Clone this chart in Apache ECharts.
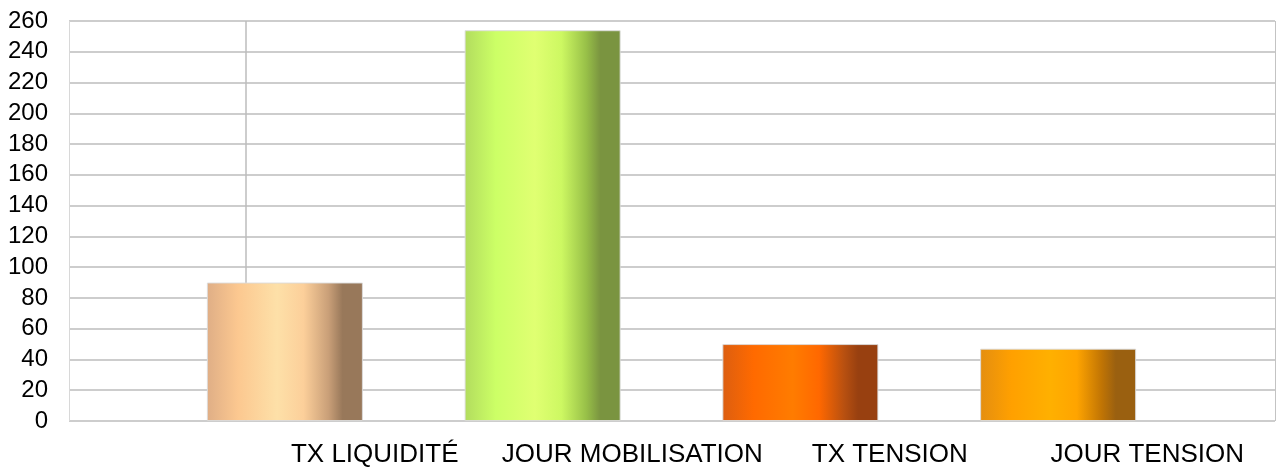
<!DOCTYPE html>
<html>
<head>
<meta charset="utf-8">
<script src="https://cdn.jsdelivr.net/npm/echarts@6/dist/echarts.min.js"></script>
<style>
  html, body { margin: 0; padding: 0; background: #ffffff; }
  #chart { width: 1276px; height: 468px; }
</style>
</head>
<body>
<div id="chart"></div>
<script>
// Indicator labels and their values
const categories = ['TX LIQUIDITÉ', 'JOUR MOBILISATION', 'TX TENSION', 'JOUR TENSION'];
const values = [90, 254, 50, 47];
const yMax = 260;
const yStep = 20;

// Cylinder-like shading for each bar: [edge, light, highlight, light, mid, shadow]
const barShades = [
  ['#dfae86', '#fcc890', '#fde0a8', '#fccf9a', '#c99f78', '#98785a'],
  ['#b2dc5e', '#ccff66', '#e0ff72', '#cdf862', '#98c048', '#7a9440'],
  ['#dc5e10', '#ff6a00', '#ff7c00', '#ff6800', '#b85010', '#984010'],
  ['#e48e10', '#ffa000', '#ffb000', '#ffa400', '#c07404', '#9a6010']
];

function shade(c) {
  return new echarts.graphic.LinearGradient(0, 0, 1, 0, [
    { offset: 0, color: c[0] },
    { offset: 0.2, color: c[1] },
    { offset: 0.45, color: c[2] },
    { offset: 0.62, color: c[3] },
    { offset: 0.78, color: c[4] },
    { offset: 0.87, color: c[5] },
    { offset: 1, color: c[5] }
  ]);
}

const chart = echarts.init(document.getElementById('chart'), null, { renderer: 'canvas' });

const font = 'Liberation Sans';

chart.setOption({
  animation: false,
  grid: [
    { left: 69, right: 1, top: 21, bottom: 47 },   // back wall with value scale
    { left: 156, right: 89, top: 21, bottom: 47 }, // bars
    { left: 246, right: 0, top: 21, bottom: 47 }   // category labels
  ],
  xAxis: [
    {
      gridIndex: 0, type: 'value', min: 0, max: 1, interval: 1,
      axisLine: { show: false }, axisTick: { show: false }, axisLabel: { show: false },
      splitLine: { show: true, lineStyle: { color: '#d8d8d8', width: 1 } }
    },
    {
      gridIndex: 1, type: 'category', data: categories,
      axisLine: { show: false }, axisTick: { show: false }, axisLabel: { show: false },
      splitLine: { show: false }
    },
    {
      gridIndex: 2, type: 'category', data: categories,
      axisLine: { show: false }, axisTick: { show: false },
      axisLabel: { interval: 0, margin: 21, fontFamily: font, fontSize: 26, color: '#000000' },
      splitLine: {
        show: true,
        interval: function (index) { return index === 0; },
        lineStyle: { color: '#bcbcbc', width: 1.5 }
      }
    }
  ],
  yAxis: [
    {
      gridIndex: 0, type: 'value', min: 0, max: yMax, interval: yStep,
      axisLine: { show: false }, axisTick: { show: false },
      axisLabel: { margin: 21, align: 'right', fontFamily: font, fontSize: 24, color: '#000000' },
      splitLine: { show: true, lineStyle: { color: '#bcbcbc', width: 1.5 } }
    },
    {
      gridIndex: 1, type: 'value', min: 0, max: yMax, interval: yStep, show: false
    },
    {
      gridIndex: 2, type: 'value', min: 0, max: yMax, interval: yStep, show: false
    }
  ],
  series: [
    {
      type: 'bar',
      xAxisIndex: 1,
      yAxisIndex: 1,
      barWidth: 156,
      z: 3,
      data: values.map(function (v, i) {
        return {
          value: v,
          itemStyle: {
            color: shade(barShades[i]),
            borderColor: 'rgba(220,220,220,0.9)',
            borderWidth: 1
          }
        };
      })
    }
  ]
});
</script>
</body>
</html>
